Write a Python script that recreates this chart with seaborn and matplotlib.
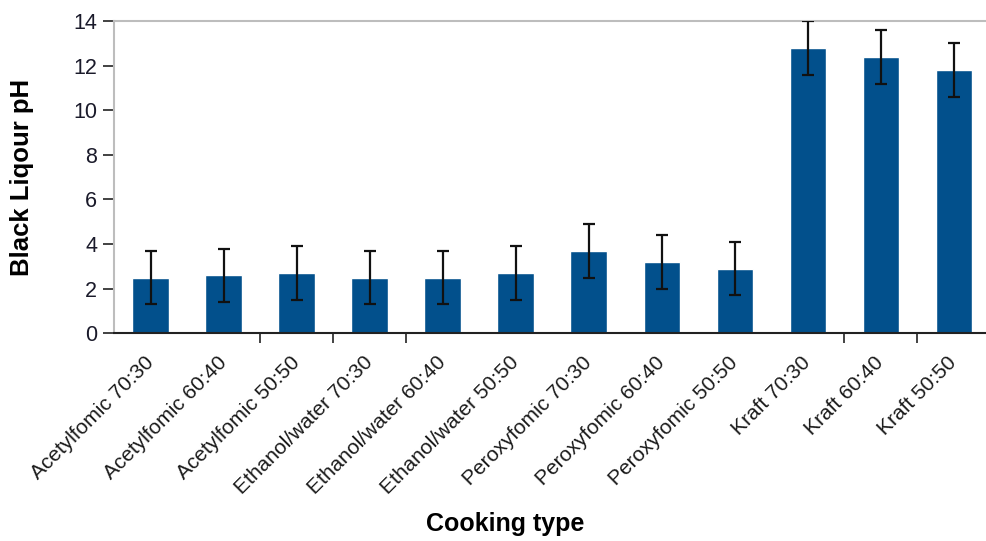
import matplotlib
matplotlib.use("Agg")
import matplotlib.pyplot as plt
import seaborn as sns
import pandas as pd

categories = [
    "Acetylfomic 70:30", "Acetylfomic 60:40", "Acetylfomic 50:50",
    "Ethanol/water 70:30", "Ethanol/water 60:40", "Ethanol/water 50:50",
    "Peroxyfomic 70:30", "Peroxyfomic 60:40", "Peroxyfomic 50:50",
    "Kraft 70:30", "Kraft 60:40", "Kraft 50:50",
]
ph_values = [2.5, 2.6, 2.7, 2.5, 2.5, 2.7, 3.7, 3.2, 2.9, 12.8, 12.4, 11.8]
ph_errors = [1.2, 1.2, 1.2, 1.2, 1.2, 1.2, 1.2, 1.2, 1.2, 1.2, 1.2, 1.2]
y_ticks = [0, 2, 4, 6, 8, 10, 12, 14]

sns.set_theme(style="white")
plt.rcParams["font.family"] = ["Liberation Sans", "DejaVu Sans"]

df = pd.DataFrame({"Cooking type": categories, "pH": ph_values})

fig = plt.figure(figsize=(9.87, 5.41), dpi=100)
ax = fig.add_axes([0.1155, 0.384, 0.888, 0.577])

sns.barplot(data=df, x="Cooking type", y="pH", color="#02508c",
            saturation=1, width=0.5, errorbar=None, ax=ax, zorder=2)
ax.errorbar(range(len(categories)), ph_values, yerr=ph_errors, fmt="none",
            ecolor="#111111", elinewidth=1.6, capsize=4.4, capthick=1.6,
            zorder=3)

ax.set_xlim(-0.5, 11.5)
ax.set_ylim(0, 14)
ax.set_yticks(y_ticks)
ax.set_yticklabels([str(t) for t in y_ticks], fontsize=15.5, color="#1a1a2a")

ax.set_xticks(range(len(categories)))
ax.set_xticklabels(categories, rotation=45, ha="right", va="center",
                   rotation_mode="anchor", fontsize=15, color="#1a1a1a")
ax.tick_params(axis="x", which="major", length=0, pad=19)
ax.set_xticks([1.5, 2.5, 3.5, 9.5, 10.5], minor=True)
ax.tick_params(axis="x", which="minor", length=7, width=1.2,
               color="#222222", direction="out", bottom=True)
ax.tick_params(axis="y", length=8, width=1.2, color="#222222",
               direction="out", left=True, pad=4)

for side in ("top", "left"):
    ax.spines[side].set_color("#bdbdbd")
    ax.spines[side].set_linewidth(1.5)
ax.spines["right"].set_visible(False)
ax.spines["bottom"].set_color("#222222")
ax.spines["bottom"].set_linewidth(1.5)

ax.set_ylabel("Black Liqour pH", fontsize=18.5, fontweight="bold",
              color="#000000", va="center")
ax.yaxis.set_label_coords(-0.105, 0.5)
ax.set_xlabel("Cooking type", fontsize=18, fontweight="bold",
              color="#000000", va="center")
ax.xaxis.set_label_coords(0.446, -0.612)

fig.savefig("out.png", dpi=100, facecolor="white")
